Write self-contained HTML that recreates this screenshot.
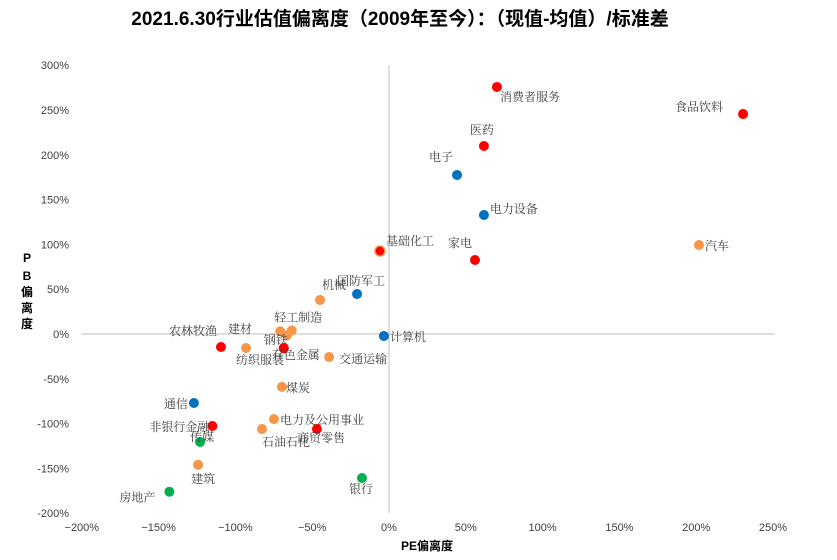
<!DOCTYPE html>
<html><head><meta charset="utf-8"><style>
body{margin:0;background:#fff;}
svg{display:block;font-family:"Liberation Sans","Noto Sans CJK SC",sans-serif;}
.lbl{font-family:"Liberation Serif","Noto Serif CJK SC",serif;}
</style></head><body>
<svg id="chart" width="837" height="560">
<text x="400" y="25" text-anchor="middle" font-size="19" font-weight="bold" fill="#000">2021.6.30行业估值偏离度（2009年至今）：（现值-均值）/标准差</text>
<g id="axes"></g>
<g id="pts"></g>
<text x="427" y="550" text-anchor="middle" font-size="12" font-weight="bold">PE偏离度</text>
<g font-size="12" font-weight="bold" text-anchor="middle">
<text x="27" y="262">P</text><text x="27" y="280">B</text><text x="27" y="296">偏</text><text x="27" y="312">离</text><text x="27" y="328">度</text>
</g>
</svg>
<script>
const names=["消费者服务","食品饮料","医药","电子","电力设备","汽车","基础化工","家电","国防军工","机械","轻工制造","","","钢铁","计算机","农林牧渔","纺织服装","有色金属","交通运输","煤炭","通信","电力及公用事业","石油石化","商贸零售","非银行金融","传媒","建筑","银行","房地产","建材"];
const peVals=[70.3,230.5,61.8,44.3,61.8,201.8,-5.9,56,-20.8,-44.9,-70.8,-63.3,-66.5,-68.5,-3.3,-109.4,-93.1,-68.5,-39,-69.7,-127,-74.9,-82.7,-46.9,-115,-123,-124.3,-17.6,-143,null];
const pbVals=[275.7,245.5,209.8,177.5,132.8,99.3,92.6,82.6,44.6,37.9,3,4,-1.5,-15.8,-2.2,-14.5,-15.6,-15.8,-25.7,-59,-77,-95,-106,-106,-102.7,-120.5,-146,-160.7,-176,null];
const colors=["r","r","r","b","b","o","ro","r","b","o","o","o","o","r","b","r","o","r","o","o","b","o","o","r","r","g","o","g","g","o"];
const xTicks=[-200,-150,-100,-50,0,50,100,150,200,250];
const yTicks=[300,250,200,150,100,50,0,-50,-100,-150,-200];
const X=v=>389+v*1.536, Y=v=>334-v*0.896;
const NS="http://www.w3.org/2000/svg";
const ax=document.getElementById('axes'), pg=document.getElementById('pts');
function mk(t,a,p){const e=document.createElementNS(NS,t);for(const k in a)e.setAttribute(k,a[k]);p.appendChild(e);return e;}
let l=mk('line',{x1:81,x2:775,y1:Y(0),y2:Y(0),stroke:'#bfbfbf'},ax);


l=mk('line',{x1:X(0),x2:X(0),y1:Y(300),y2:Y(-200),stroke:'#bfbfbf'},ax);


xTicks.forEach(v=>{const t=mk('text',{x:X(v),y:531,'text-anchor':'middle','font-size':11,fill:'#404040'},ax);t.textContent=(v<0?'−':'')+Math.abs(v)+'%';

});
yTicks.forEach(v=>{const t=mk('text',{x:69,y:Y(v)+4,'text-anchor':'end','font-size':11,fill:'#404040'},ax);t.textContent=v+'%';

});
const cmap={r:'#ff0000',b:'#0070c0',o:'#f79646',g:'#00b050'};
const lab={"消费者服务":[3,14,'start'],"食品饮料":[-20,-3,'end'],"医药":[-2,-12,'middle'],"电子":[-4,-14,'end'],"电力设备":[6,-2,'start'],"汽车":[6,5,'start'],"基础化工":[6,-6,'start'],"家电":[-3,-13,'end'],"国防军工":[-20,-9,'start'],"机械":[2,-11,'start'],"轻工制造":[-6,-10,'start'],"钢铁":[-20,-4,'start'],"计算机":[6,5,'start'],"农林牧渔":[-4,-12,'end'],"纺织服装":[-10,16,'start'],"有色金属":[-12,11,'start'],"交通运输":[10,6,'start'],"煤炭":[4,5,'start'],"通信":[-6,5,'end'],"电力及公用事业":[6,5,'start'],"石油石化":[0,17,'start'],"商贸零售":[-20,13,'start'],"非银行金融":[-63,5,'start'],"传媒":[-10,-1,'start'],"建筑":[-7,18,'start'],"银行":[-13,15,'start'],"房地产":[-50,10,'start']};
peVals.forEach((v,i)=>{if(v===null)return;const cx=X(v),cy=Y(pbVals[i]);const c=colors[i];
let d;
if(c==='ro'){d=mk('circle',{cx,cy,r:5,fill:'#ff0000',stroke:'#f79646','stroke-width':1.5},pg);}
else d=mk('circle',{cx,cy,r:5,fill:cmap[c]},pg);


const L=lab[names[i]];if(L){const t=mk('text',{x:cx+L[0],y:cy+L[1],'text-anchor':L[2],'font-size':12,fill:'#404040','class':'lbl'},pg);t.textContent=names[i];

}
});
const t=mk('text',{x:228,y:333,'font-size':12,fill:'#404040','class':'lbl'},pg);t.textContent='建材';


</script>
</body></html>
